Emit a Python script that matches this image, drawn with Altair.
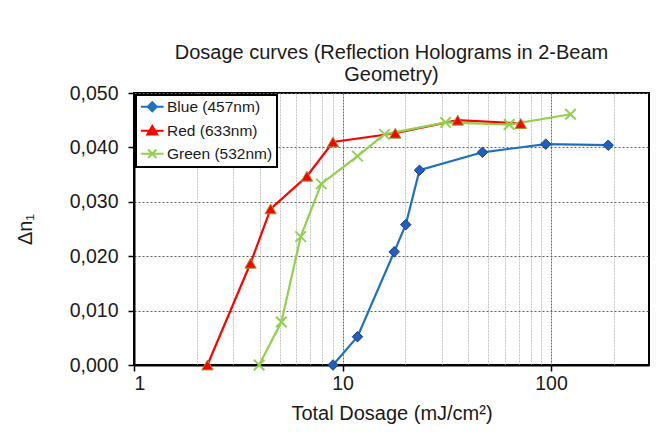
import altair as alt
import pandas as pd

# ---- data ----
series_names = ["Blue (457nm)", "Red (633nm)", "Green (532nm)"]

blue_x = [9.0, 11.8, 17.7, 20.1, 23.4, 46.9, 94.3, 188]
blue_y = [0.0, 0.0052, 0.0208, 0.0258, 0.0358, 0.0391, 0.0406, 0.0404]

red_x = [2.25, 3.62, 4.52, 6.75, 9.0, 17.9, 35.7, 71.6]
red_y = [0.0, 0.0187, 0.0287, 0.0347, 0.0410, 0.0426, 0.0450, 0.0444]

green_x = [3.98, 5.09, 6.3, 7.91, 11.8, 15.9, 31.2, 63.0, 124]
green_y = [0.0, 0.0079, 0.0236, 0.0333, 0.0384, 0.0424, 0.0446, 0.0442, 0.0461]

y_ticks = [0.0, 0.01, 0.02, 0.03, 0.04, 0.05]
x_grid = [1, 2, 3, 4, 5, 6, 7, 8, 9, 10, 20, 30, 40, 50, 60, 70, 80, 90, 100, 200]
x_major = [1, 10, 100]

line_colors = ["#1f70c1", "#ff0000", "#92d050"]

rows = []
for name, xs, ys in zip(series_names, [blue_x, red_x, green_x], [blue_y, red_y, green_y]):
    for i, (a, b) in enumerate(zip(xs, ys)):
        rows.append({"series": name, "x": a, "y": b, "idx": i})
df = pd.DataFrame(rows)

FONT = "Liberation Sans"
major_test = " || ".join(f"datum.value == {v}" for v in x_major)

x_enc = alt.X(
    "x:Q",
    scale=alt.Scale(type="log", domain=[1, 295], nice=False),
    axis=alt.Axis(
        title="Total Dosage (mJ/cm²)",
        values=x_grid,
        labelExpr=f"({major_test}) ? format(datum.value, 'd') : ''",
        tickOpacity={"condition": {"test": major_test, "value": 1}, "value": 0},
        gridColor={"condition": {"test": major_test, "value": "#6a6a6a"}, "value": "#c4c4c4"},
        gridDash=[2, 1],
        tickSize=6,
        tickWidth=1.5,
        tickColor="black",
        labelPadding=3,
        titleY=48,
        titleBaseline="middle",
    ),
)
y_enc = alt.Y(
    "y:Q",
    scale=alt.Scale(domain=[0, 0.05], nice=False),
    axis=alt.Axis(
        title="Δn₁",
        values=y_ticks,
        labelExpr="replace(format(datum.value, '.3f'), '.', ',')",
        gridColor="#606060",
        gridDash=[2, 2],
        tickSize=6,
        tickWidth=1.5,
        tickColor="black",
        labelPadding=10,
        titleAngle=-90,
        titleX=-109,
        titleY=136,
        titleAlign="center",
        titleBaseline="middle",
    ),
)

base = alt.Chart(df)

lines = base.mark_line(strokeWidth=2.2).encode(
    x=x_enc,
    y=y_enc,
    color=alt.Color("series:N", scale=alt.Scale(domain=series_names, range=line_colors)),
    order="idx:Q",
)

blue_pts = base.transform_filter(alt.datum.series == series_names[0]).mark_point(
    shape="diamond", filled=True, size=110, fill="#1f5fbf", stroke="#17408f", strokeWidth=1, opacity=1
).encode(x="x:Q", y="y:Q")

red_pts = base.transform_filter(alt.datum.series == series_names[1]).mark_point(
    shape="triangle-up", filled=True, size=130, fill="#ff0000", stroke="#9a9a30", strokeWidth=1, opacity=1
).encode(x="x:Q", y="y:Q")

green_pts = base.transform_filter(alt.datum.series == series_names[2]).mark_point(
    shape="M-1,-1L1,1M-1,1L1,-1", filled=False, size=110, stroke="#92d050", strokeWidth=2, opacity=1
).encode(x="x:Q", y="y:Q")

# legend symbols: a short line through the marker (nested outlines read as a filled marker)
legend_paths = [
    "M-1.9,0H1.9M-0.75,0L0,-0.75L0.75,0L0,0.75ZM-0.42,0L0,-0.42L0.42,0L0,0.42ZM-0.1,0L0,-0.1L0.1,0L0,0.1Z",
    "M-1.9,0H1.9M0,-0.8L0.82,0.62L-0.82,0.62ZM0,-0.35L0.4,0.36L-0.4,0.36Z",
    "M-1.9,0H1.9M-0.7,-0.7L0.7,0.7M-0.7,0.7L0.7,-0.7",
]

leg = alt.Legend(
    title=None,
    orient="top-left",
    offset=2,
    direction="vertical",
    padding=4,
    strokeColor="black",
    fillColor="white",
    labelFont=FONT,
    labelFontSize=15.5,
    labelColor="#1a1a1a",
    symbolSize=144,
    symbolStrokeWidth=2,
    symbolOpacity=1,
    symbolOffset=4.5,
    labelOffset=7,
    rowPadding=5,
)

legend_layer = base.mark_point(opacity=0, filled=False).encode(
    x="x:Q",
    y="y:Q",
    color=alt.Color("series:N", scale=alt.Scale(domain=series_names, range=line_colors), legend=leg),
    shape=alt.Shape("series:N", scale=alt.Scale(domain=series_names, range=legend_paths), legend=leg),
)

chart = alt.layer(lines, blue_pts, red_pts, green_pts, legend_layer).properties(
    width=515,
    height=272,
    autosize=alt.AutoSizeParams(type="none"),
    padding={"left": 126, "top": 85, "right": 5, "bottom": 64},
    background="white",
    title=alt.TitleParams(
        text=["Dosage curves (Reflection Holograms in 2-Beam", "Geometry)"],
        font=FONT,
        fontSize=20,
        fontWeight="normal",
        color="#1a1a1a",
        anchor="middle",
        lineHeight=22,
        offset=-2,
    ),
).configure_view(
    stroke="black", strokeWidth=2
).configure_axis(
    labelFont=FONT,
    labelFontSize=19.5,
    labelColor="#1a1a1a",
    titleFont=FONT,
    titleFontSize=20,
    titleFontWeight="normal",
    titleColor="#1a1a1a",
    domainColor="black",
    domainWidth=2,
    gridWidth=1,
).configure_legend(
    strokeWidth=2
)

chart.save("out.html", embed_options={"renderer": "svg", "actions": False})
